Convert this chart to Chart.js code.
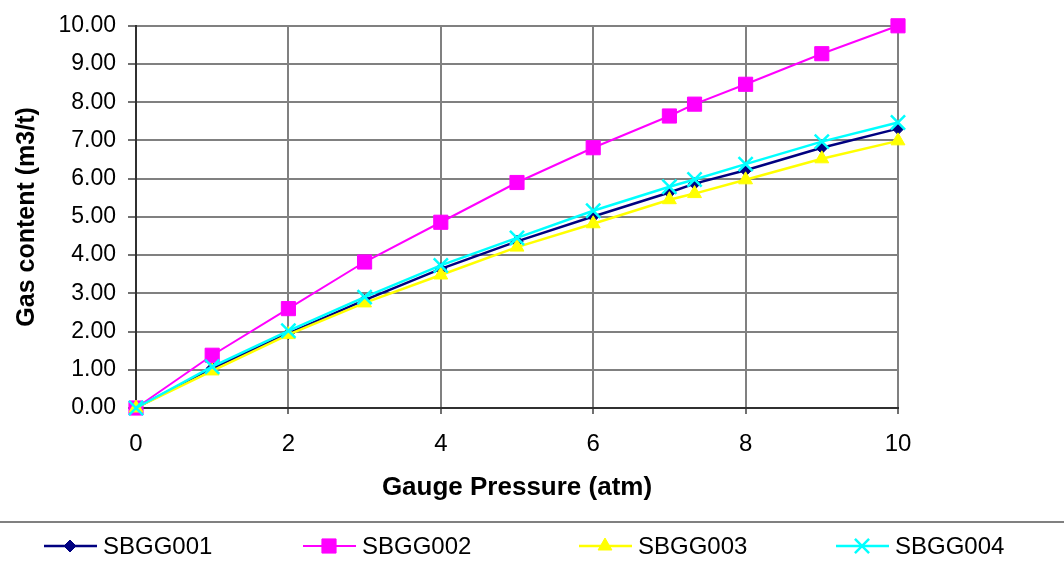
<!DOCTYPE html>
<html>
<head>
<meta charset="utf-8">
<script src="https://cdn.jsdelivr.net/npm/chart.js@4.4.1/dist/chart.umd.min.js"></script>
<style>
  html, body { margin: 0; padding: 0; background: #fff; }
  #wrap { width: 1064px; height: 565px; position: relative; }
</style>
</head>
<body>
<div id="wrap"><canvas id="myChart"></canvas></div>
<script>
// gauge pressure (atm)
const pressure = [0, 1, 2, 3, 4, 5, 6, 7, 7.33, 8, 9, 10];

// gas content (m3/t) per sample
const sbgg001 = [0, 1.04, 1.95, 2.82, 3.64, 4.36, 5.01, 5.64, 5.87, 6.22, 6.81, 7.31];
const sbgg002 = [0, 1.38, 2.60, 3.82, 4.86, 5.90, 6.81, 7.64, 7.95, 8.47, 9.27, 10.00];
const sbgg003 = [0, 0.97, 1.92, 2.75, 3.48, 4.21, 4.82, 5.45, 5.61, 5.97, 6.52, 6.99];
const sbgg004 = [0, 1.08, 2.02, 2.90, 3.73, 4.45, 5.16, 5.79, 5.98, 6.38, 6.97, 7.47];

const seriesNames = ["SBGG001", "SBGG002", "SBGG003", "SBGG004"];
const xTicks = [0, 2, 4, 6, 8, 10];
const yTicks = [0, 1, 2, 3, 4, 5, 6, 7, 8, 9, 10];

const FONT = "'Liberation Sans', Arial, sans-serif";

const toPoints = (ys) => ys.map((y, i) => ({ x: pressure[i], y: y }));

const styles = [
  { color: "#000080", pointStyle: "rectRot", radius: 6, width: 2.5 },
  { color: "#FF00FF", pointStyle: "rect", radius: 10, width: 2 },
  { color: "#FFFF00", pointStyle: "triangle", radius: 8, width: 2.5 },
  { color: "#00FFFF", pointStyle: "crossRot", radius: 10, width: 2.5 },
];

const allSeries = [sbgg001, sbgg002, sbgg003, sbgg004];

const datasets = allSeries.map((ys, i) => ({
  label: seriesNames[i],
  data: toPoints(ys),
  borderColor: styles[i].color,
  backgroundColor: styles[i].color,
  borderWidth: styles[i].width,
  pointStyle: styles[i].pointStyle,
  pointRadius: styles[i].radius,
  pointBorderWidth: styles[i].pointStyle === "crossRot" ? 2.5 : 1,
  pointBorderColor: styles[i].color,
  pointBackgroundColor: styles[i].color,
  tension: 0,
  clip: false,
  order: 3 - i,
}));

// legend under a separator line, drawn by hand so each entry shows line + marker
const legendX = [44, 303, 579, 836];
const bottomLegend = {
  id: "bottomLegend",
  afterDraw(chart) {
    const ctx = chart.ctx;
    ctx.save();
    ctx.strokeStyle = "#808080";
    ctx.lineWidth = 2;
    ctx.beginPath();
    ctx.moveTo(0, 522);
    ctx.lineTo(chart.width, 522);
    ctx.stroke();

    const y = 546;
    chart.data.datasets.forEach((ds, i) => {
      const x0 = legendX[i];
      ctx.strokeStyle = ds.borderColor;
      ctx.lineWidth = ds.borderWidth;
      ctx.beginPath();
      ctx.moveTo(x0, y);
      ctx.lineTo(x0 + 53, y);
      ctx.stroke();
      ctx.fillStyle = ds.pointBackgroundColor;
      ctx.strokeStyle = ds.pointBorderColor;
      ctx.lineWidth = ds.pointBorderWidth;
      Chart.helpers.drawPoint(ctx, {
        pointStyle: ds.pointStyle,
        radius: ds.pointRadius,
        rotation: 0,
        borderWidth: ds.pointBorderWidth,
      }, x0 + 26, y);
      ctx.fillStyle = "#000";
      ctx.font = "24px " + FONT;
      ctx.textAlign = "left";
      ctx.textBaseline = "middle";
      ctx.fillText(ds.label, x0 + 59, y + 1);
    });
    ctx.restore();
  },
};

new Chart(document.getElementById("myChart"), {
  type: "line",
  data: { datasets: datasets },
  options: {
    responsive: true,
    maintainAspectRatio: false,
    animation: false,
    layout: { padding: { top: 22, right: 166, left: 8, bottom: 58 } },
    plugins: {
      legend: { display: false },
      tooltip: { enabled: false },
    },
    scales: {
      x: {
        type: "linear",
        min: 0,
        max: 10,
        afterBuildTicks: (scale) => {
          scale.ticks = xTicks.map((v) => ({ value: v }));
        },
        afterFit: (scale) => { scale.height = 99; },
        grid: {
          color: "#808080",
          lineWidth: 2,
          tickLength: 6,
          tickColor: "#404040",
          tickWidth: 1.5,
        },
        border: { color: "#303030", width: 2 },
        ticks: {
          padding: 16,
          maxRotation: 0,
          color: "#000",
          font: { family: FONT, size: 24 },
        },
        title: {
          display: true,
          text: "Gauge Pressure (atm)",
          color: "#000",
          font: { family: FONT, size: 26, weight: "bold" },
        },
      },
      y: {
        min: 0,
        max: 10,
        afterBuildTicks: (scale) => {
          scale.ticks = yTicks.map((v) => ({ value: v }));
        },
        afterFit: (scale) => { scale.width = 128; },
        grid: {
          color: "#808080",
          lineWidth: 2,
          tickLength: 8,
          tickColor: "#404040",
          tickWidth: 1.5,
        },
        border: { color: "#303030", width: 2 },
        ticks: {
          padding: 12,
          color: "#000",
          font: { family: FONT, size: 23 },
          callback: (v) => Number(v).toFixed(2),
        },
        title: {
          display: true,
          text: "Gas content (m3/t)",
          color: "#000",
          font: { family: FONT, size: 25, weight: "bold" },
        },
      },
    },
  },
  plugins: [bottomLegend],
});
</script>
</body>
</html>
